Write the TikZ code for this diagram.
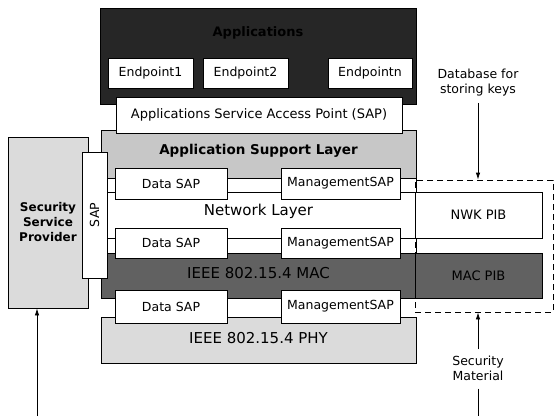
\documentclass[tikz,border=0pt]{standalone}
\usepackage{fontspec}
\setmainfont{DejaVu Sans}
\usetikzlibrary{arrows.meta}
\begin{document}
\begin{tikzpicture}[x=1pt,y=-1pt,
  box/.style={draw=black, line width=0.8pt, inner sep=0pt, fill=white},
  sapbox/.style={box, font=\fontsize{12.5}{14}\selectfont},
  layertext/.style={font=\fontsize{15}{17}\selectfont, inner sep=0pt},
  lbl/.style={font=\fontsize{12.5}{15}\selectfont, align=center, inner sep=0pt},
  arr/.style={line width=0.8pt, -{Latex[length=7pt,width=4.5pt]}},
  ln/.style={line width=0.8pt}]
\useasboundingbox (0,0) rectangle (557,416);

% Applications block
\node[box, fill=black!85, minimum width=316pt, minimum height=96pt] (apps) at (258,56) {};
\node[font=\fontsize{13}{15}\selectfont\bfseries, text=black, inner sep=0pt] (appt) at (258,33) {Applications};
\node[sapbox, minimum width=85pt, minimum height=30pt] (ep1) at (150.5,73) {Endpoint1};
\node[sapbox, minimum width=85pt, minimum height=30pt] (ep2) at (245.5,73) {Endpoint2};
\node[sapbox, minimum width=84pt, minimum height=30pt] (epn) at (370,73) {Endpointn};

% Layers
\node[box, fill=black!22, minimum width=315pt, minimum height=48pt] (aps) at (258.5,154) {};
\node[box, minimum width=286pt, minimum height=36pt, font=\fontsize{13}{15}\selectfont] (appsap) at (259,115) {Applications Service Access Point (SAP)};
\node[layertext, font=\fontsize{13.5}{16}\selectfont\bfseries] (apst) at (258.5,151) {Application Support Layer};

\node[box, minimum width=315pt, minimum height=75pt] (nwk) at (258.5,215.5) {};
\coordinate (nl1) at (101,192); \coordinate (nr1) at (416,192);
\coordinate (nl2) at (101,238); \coordinate (nr2) at (416,238);
\draw[ln] (nl1) -- (nr1);
\draw[ln] (nl2) -- (nr2);
\node[layertext] (nwkt) at (258.5,211) {Network Layer};

\node[box, fill=black!62, minimum width=315pt, minimum height=45pt] (mac) at (258.5,275.5) {};
\node[layertext] (mact) at (258.5,273) {IEEE 802.15.4 MAC};

\node[box, fill=black!14, minimum width=315pt, minimum height=46pt] (phy) at (258.5,340) {};
\node[layertext] (phyt) at (258.5,338) {IEEE 802.15.4 PHY};

% SAP boxes
\node[sapbox, minimum width=112pt, minimum height=31pt] (d1) at (171,183.5) {Data SAP};
\node[sapbox, minimum width=119pt, minimum height=31pt] (m1) at (340.5,183.5) {ManagementSAP};
\node[sapbox, minimum width=112pt, minimum height=30pt] (d2) at (171,243) {Data SAP};
\node[sapbox, minimum width=119pt, minimum height=30pt] (m2) at (340.5,243) {ManagementSAP};
\node[sapbox, minimum width=112pt, minimum height=33pt] (d3) at (171,306.5) {Data SAP};
\node[sapbox, minimum width=119pt, minimum height=33pt] (m3) at (340.5,306.5) {ManagementSAP};

% Security service provider
\node[box, fill=black!14, minimum width=80pt, minimum height=171pt] (ssp) at (48,222.5) {};
\node[lbl, font=\fontsize{12}{15}\selectfont\bfseries] (sspt) at (48,222) {Security\\Service\\Provider};
\node[sapbox, minimum width=25pt, minimum height=126pt] (sap) at (94.5,215) {};
\node[lbl, rotate=90] (sapt) at (94.5,215) {SAP};

% PIBs
\node[box, minimum width=127pt, minimum height=46pt, font=\fontsize{13}{15}\selectfont] (nwkpib) at (478.5,215) {NWK PIB};
\node[box, fill=black!62, minimum width=127pt, minimum height=45pt, font=\fontsize{13}{15}\selectfont] (macpib) at (478.5,275.5) {MAC PIB};
\node[draw=black, line width=0.8pt, dashed, dash pattern=on 6pt off 4pt, minimum width=138pt, minimum height=132pt, inner sep=0pt] (dbox) at (484,246) {};

% labels and arrows
\node[lbl] (db) at (478,83) {Database for\\storing keys};
\coordinate (dbs) at ([yshift=-6pt]db.south);
\draw[arr] (dbs) -- (dbs |- dbox.north);
\node[lbl] (sm) at (478,368) {Security\\Material};
\coordinate (smtop) at ([yshift=6pt]sm.north);
\draw[arr] (smtop) -- (smtop |- dbox.south);
\coordinate (smbot) at ([yshift=-8pt]sm.south);
\coordinate (bot) at (0,416);
\draw[ln] (smbot) -- (smbot |- bot);
\coordinate (lb) at (37,416);
\draw[arr] (lb) -- (lb |- ssp.south);
\end{tikzpicture}
\end{document}
